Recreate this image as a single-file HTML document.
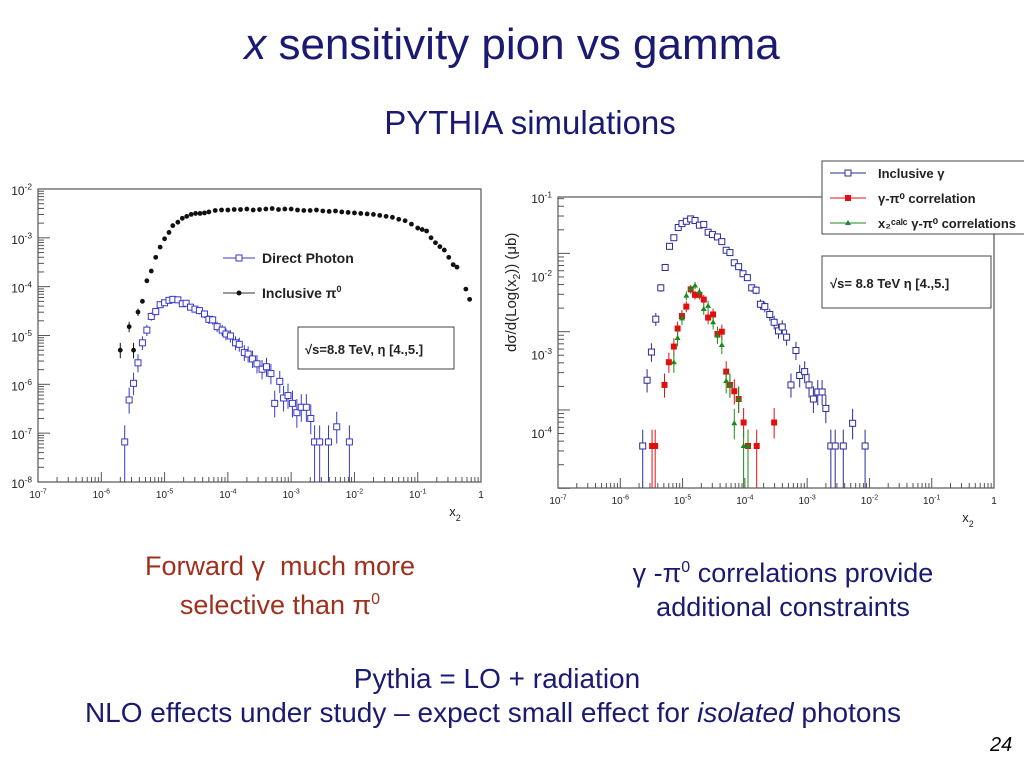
<!DOCTYPE html>
<html><head><meta charset="utf-8">
<style>
body{margin:0;width:1024px;height:768px;background:#fff;overflow:hidden;font-family:"Liberation Sans",sans-serif;position:relative}
.t{position:absolute;white-space:nowrap;color:#1a1a72}
</style></head><body>
<div class="t" style="left:0;width:1024px;text-align:center;top:20px;font-size:44px;"><span><i>x</i> sensitivity pion vs gamma</span></div>
<div class="t" style="left:0;width:1060px;text-align:center;top:104px;font-size:33px;">PYTHIA simulations</div>
<div class="t" style="left:130px;width:300px;text-align:center;top:549px;font-size:27px;line-height:34px;color:#a0301e">Forward γ &nbsp;much more<br>selective than π<sup style="font-size:16px">0</sup></div>
<div class="t" style="left:618px;width:330px;text-align:center;top:551px;font-size:27px;line-height:34px">γ -π<sup style="font-size:16px">0</sup> correlations provide<br>additional constraints</div>
<div class="t" style="left:0;width:994px;text-align:center;top:663px;font-size:28px">Pythia = LO + radiation</div>
<div class="t" style="left:0;width:986px;text-align:center;top:697px;font-size:28px">NLO effects under study – expect small effect for <i>isolated</i> photons</div>
<div class="t" style="left:990px;top:734px;font-size:20px;color:#000"><i>24</i></div>
<svg id="s" width="1024" height="768" style="position:absolute;left:0;top:0" font-family="Liberation Sans, sans-serif"></svg>
<script>
// Left chart data (log10 values)
const piX=[-5.70,-5.56,-5.49,-5.42,-5.35,-5.28,-5.21,-5.14,-5.07,-5.00,-4.93,-4.87,-4.79,-4.72,-4.65,-4.58,-4.51,-4.44,-4.37,-4.30,-4.20,-4.10,-4.00,-3.90,-3.80,-3.70,-3.60,-3.50,-3.40,-3.30,-3.20,-3.10,-3.00,-2.90,-2.80,-2.70,-2.60,-2.50,-2.40,-2.30,-2.20,-2.10,-2.00,-1.90,-1.80,-1.70,-1.60,-1.50,-1.40,-1.30,-1.20,-1.10,-1.00,-0.93,-0.86,-0.79,-0.72,-0.65,-0.58,-0.51,-0.44,-0.38,-0.24,-0.18];
const piY=[-5.30,-4.82,-5.30,-4.52,-4.30,-3.88,-3.68,-3.40,-3.19,-3.02,-2.89,-2.75,-2.68,-2.60,-2.56,-2.52,-2.50,-2.50,-2.49,-2.47,-2.44,-2.43,-2.43,-2.42,-2.42,-2.41,-2.43,-2.42,-2.41,-2.40,-2.42,-2.41,-2.41,-2.43,-2.44,-2.44,-2.43,-2.45,-2.46,-2.45,-2.47,-2.48,-2.49,-2.50,-2.51,-2.52,-2.54,-2.56,-2.58,-2.62,-2.65,-2.72,-2.80,-2.83,-2.86,-3.00,-3.10,-3.18,-3.25,-3.40,-3.55,-3.60,-4.05,-4.26];
const dgX=[-5.63,-5.56,-5.49,-5.42,-5.35,-5.28,-5.21,-5.14,-5.07,-5.00,-4.93,-4.87,-4.79,-4.72,-4.66,-4.59,-4.52,-4.45,-4.37,-4.30,-4.24,-4.17,-4.09,-4.03,-3.96,-3.88,-3.82,-3.74,-3.68,-3.61,-3.54,-3.46,-3.39,-3.32,-3.26,-3.18,-3.12,-3.05,-2.98,-2.91,-2.84,-2.76,-2.69,-2.63,-2.55,-2.41,-2.28,-2.08];
const dgY=[-7.18,-6.32,-5.98,-5.56,-5.15,-4.89,-4.61,-4.51,-4.37,-4.33,-4.28,-4.26,-4.27,-4.35,-4.34,-4.42,-4.46,-4.49,-4.56,-4.67,-4.68,-4.82,-4.89,-4.97,-5.01,-5.15,-5.18,-5.35,-5.38,-5.48,-5.58,-5.69,-5.64,-5.78,-6.39,-5.94,-6.28,-6.23,-6.39,-6.58,-6.47,-6.47,-6.70,-7.18,-7.18,-7.18,-6.87,-7.18];
// Right chart data (log10 values)
const igX=[-5.64,-5.57,-5.50,-5.43,-5.35,-5.28,-5.21,-5.14,-5.07,-5.01,-4.94,-4.87,-4.80,-4.73,-4.66,-4.59,-4.52,-4.44,-4.37,-4.30,-4.24,-4.17,-4.10,-4.03,-3.96,-3.89,-3.82,-3.75,-3.68,-3.60,-3.53,-3.46,-3.40,-3.33,-3.26,-3.18,-3.12,-3.04,-2.97,-2.90,-2.83,-2.76,-2.70,-2.62,-2.55,-2.42,-2.27,-2.07];
const igY=[-4.18,-3.34,-2.98,-2.56,-2.16,-1.90,-1.63,-1.52,-1.39,-1.34,-1.31,-1.28,-1.30,-1.36,-1.35,-1.45,-1.48,-1.51,-1.57,-1.68,-1.71,-1.84,-1.89,-1.98,-2.03,-2.16,-2.19,-2.37,-2.40,-2.50,-2.60,-2.71,-2.66,-2.79,-3.40,-2.96,-3.28,-3.23,-3.40,-3.58,-3.49,-3.49,-3.70,-4.18,-4.18,-4.18,-3.89,-4.18];
const rcX=[-5.49,-5.44,-5.29,-5.22,-5.14,-5.08,-5.01,-4.94,-4.87,-4.80,-4.73,-4.66,-4.59,-4.51,-4.44,-4.37,-4.30,-4.24,-4.17,-4.10,-4.02,-3.95,-3.81,-3.53];
const rcY=[-4.18,-4.18,-3.40,-3.11,-2.91,-2.68,-2.52,-2.40,-2.18,-2.25,-2.25,-2.31,-2.54,-2.50,-2.75,-2.72,-3.23,-3.40,-3.48,-3.58,-3.88,-4.18,-4.18,-3.88];
const gcX=[-5.14,-5.08,-5.01,-4.94,-4.87,-4.80,-4.73,-4.66,-4.59,-4.51,-4.44,-4.37,-4.30,-4.24,-4.17,-4.10,-4.02,-3.95];
const gcY=[-3.11,-2.80,-2.55,-2.26,-2.17,-2.13,-2.21,-2.43,-2.39,-2.60,-2.77,-2.89,-3.35,-3.40,-3.89,-3.58,-4.18,-4.18];
const xTicks=["10-7","10-6","10-5","10-4","10-3","10-2","10-1","1"];
const lyTicks=[-2,-3,-4,-5,-6,-7,-8];
const ryTicks=[-1,-2,-3,-4];

const S=document.getElementById('s');const NS='http://www.w3.org/2000/svg';
function mk(t,a,p){const e=document.createElementNS(NS,t);for(const k in a)e.setAttribute(k,a[k]);(p||S).appendChild(e);return e;}
function lbl(x,y,base,exp,fs,anchor){const t=mk('text',{x:x,y:y,'font-size':fs,'text-anchor':anchor||'middle',fill:'#222'});t.textContent=base;if(exp!==null){const s=mk('tspan',{dy:-fs*0.45,'font-size':fs*0.7},t);s.textContent=exp;}return t;}
function chart(P,name){
 const X=v=>P.x0+(v+7)*P.dx, Y=v=>P.y0+(P.ytop-v)*P.dy;
 const g=mk('g',{});
 mk('rect',{x:P.x0,y:P.y0,width:P.x1-P.x0,height:P.y1-P.y0,fill:'none',stroke:'#555','stroke-width':1.2},g);
 for(let d=-7;d<0;d++){for(let k=1;k<10;k++){const v=d+Math.log10(k);const x=X(v);mk('line',{x1:x,x2:x,y1:P.y1,y2:P.y1-(k==1?10:5),stroke:'#555'},g);}}
 for(let d=P.ybot-1;d<=P.ytop;d++){for(let k=1;k<10;k++){const v=d+Math.log10(k);if(v<P.ybot||v>P.ytop)continue;const y=Y(v);mk('line',{x1:P.x0,x2:P.x0+(k==1?12:6),y1:y,y2:y,stroke:'#555'},g);}}
 xTicks.forEach((t,i)=>{const x=X(i-7);const e=lbl(x,P.y1+16,t=="1"?"1":"10",t=="1"?null:t.slice(2),10,'middle');});
 P.yt.forEach(v=>{const e=lbl(P.x0-6,Y(v)+6,"10",String(v),P.yfs,'end');});
 const xt=lbl(P.x1-26,P.y1+34,"x",null,13,'middle');const sb=mk('tspan',{dy:5,'font-size':9},xt);sb.textContent='2';
 return {X,Y,g};
}
function series(C,P,xs,ys,col,shape,name){
 xs.forEach((xv,i)=>{const x=C.X(xv),y=C.Y(ys[i]);const low=ys[i]<=P.low;
  const len=1.5+Math.max(0,P.eStart-ys[i])*P.eK;
  const e1=low?P.y1:y+len, e0=y-len*0.9;
  if(len>3||low)mk('line',{x1:x,x2:x,y1:e0,y2:e1,stroke:col,'stroke-width':1},C.g);
  let m;
  if(shape=='sq')m=mk('rect',{x:x-3,y:y-3,width:6,height:6,fill:'#fff',stroke:col,'stroke-width':1},C.g);
  else if(shape=='fsq')m=mk('rect',{x:x-3,y:y-3,width:6,height:6,fill:col},C.g);
  else if(shape=='tri')m=mk('polygon',{points:`${x},${y-3} ${x-3},${y+2} ${x+3},${y+2}`,fill:col},C.g);
  else m=mk('circle',{cx:x,cy:y,r:2.4,fill:col},C.g);
  
 });
}
const PL={x0:38,x1:481,y0:189,y1:482,dx:63.29,dy:48.83,ytop:-2,ybot:-8,yt:lyTicks,yfs:12,low:-7.1,eStart:-4.1,eK:5.5};
const L=chart(PL,'left-chart');
series(L,PL,piX,piY,'#111','dot','inclusive-pi0-point');
series(L,PL,dgX,dgY,'#3838c8','sq','direct-photon-point');
mk('line',{x1:223,x2:255,y1:258,y2:258,stroke:'#3838c8'});mk('rect',{x:236,y:255,width:6,height:6,fill:'#fff',stroke:'#3838c8'});
mk('line',{x1:223,x2:255,y1:293,y2:293,stroke:'#333'});mk('circle',{cx:239,cy:293,r:2.5,fill:'#111'});
let t=mk('text',{x:262,y:263,'font-size':14,'font-weight':'bold',fill:'#222'});t.textContent='Direct Photon';
t=mk('text',{x:262,y:298,'font-size':14,'font-weight':'bold',fill:'#222'});t.textContent='Inclusive  π';mk('tspan',{dy:-6,'font-size':9},t).textContent='0';
mk('rect',{x:298,y:327,width:156,height:42,fill:'#fff',stroke:'#444'});
t=mk('text',{x:305,y:354,'font-size':13,'font-weight':'bold',fill:'#222'});t.textContent='√s=8.8 TeV,  η [4.,5.]';

const PR={x0:558,x1:994,y0:197,y1:488,dx:62.29,dy:78.3,ytop:-1,ybot:-4.72,yt:ryTicks,yfs:12,low:-4.1,eStart:-1.8,eK:7};
const R=chart(PR,'right-chart');
series(R,PR,igX,igY,'#2a2a9a','sq','inclusive-gamma-point');
series(R,PR,rcX,rcY,'#e01010','fsq','gamma-pi0-point');
series(R,PR,gcX,gcY,'#1a8a1a','tri','x2calc-point');
t=mk('text',{x:0,y:0,'font-size':15,fill:'#222',transform:'translate(516,352) rotate(-90)'});t.textContent='dσ/d(Log(x';mk('tspan',{dy:4,'font-size':10},t).textContent='2';mk('tspan',{dy:-4},t).textContent=')) (μb)';
mk('rect',{x:822,y:161,width:210,height:73,fill:'#fff',stroke:'#444'});
[['#2a2a9a','sq','Inclusive  γ'],['#e01010','fsq','γ-π⁰ correlation'],['#1a8a1a','tri','x₂ᶜᵃˡᶜ  γ-π⁰ correlations']].forEach((r,i)=>{const y=173+i*25;
 mk('line',{x1:830,x2:866,y1:y,y2:y,stroke:r[0]});
 if(r[1]=='sq')mk('rect',{x:845,y:y-3,width:6,height:6,fill:'#fff',stroke:r[0]});else if(r[1]=='fsq')mk('rect',{x:845,y:y-3,width:6,height:6,fill:r[0]});else mk('polygon',{points:`848,${y-3} 845,${y+2} 851,${y+2}`,fill:r[0]});
 const tt=mk('text',{x:878,y:y+5,'font-size':13,'font-weight':'bold',fill:'#222'});tt.textContent=r[2];});
mk('rect',{x:822,y:256,width:169,height:52,fill:'#fff',stroke:'#444'});
t=mk('text',{x:830,y:288,'font-size':13,'font-weight':'bold',fill:'#222'});t.textContent='√s= 8.8 TeV  η [4.,5.]';
</script>
</body></html>
